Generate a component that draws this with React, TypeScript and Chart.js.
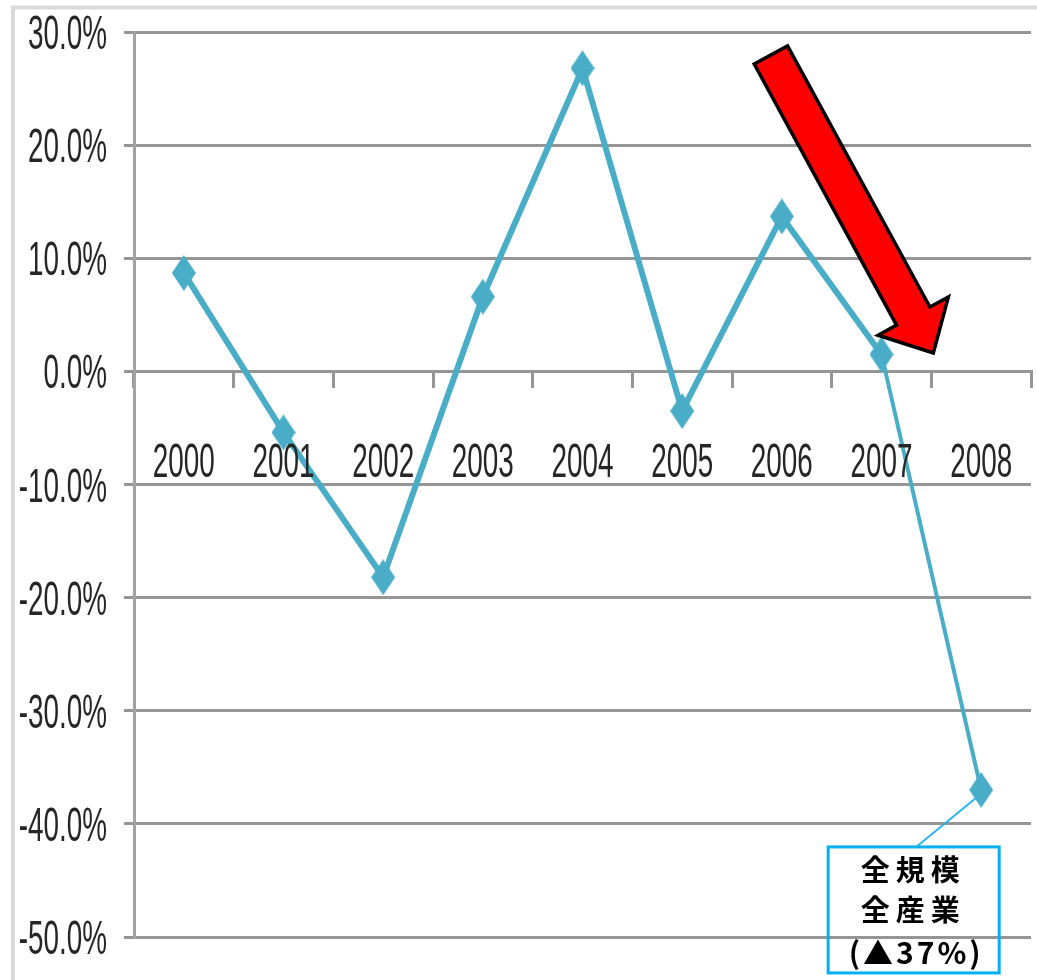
import React, { useEffect, useRef } from "react";
import { Chart, registerables } from "chart.js";

Chart.register(...registerables);

// ---- data ----
const years = ["2000", "2001", "2002", "2003", "2004", "2005", "2006", "2007", "2008"];
const growth = [8.7, -5.4, -18.2, 6.6, 26.8, -3.5, 13.7, 1.5, -37.0];
const yMin = -50;
const yMax = 30;
const yStep = 10;
const noteLines = ["全規模", "全産業", "(▲37%)"];
const arrowFrom = { x: 5.89, y: 27.97 };
const arrowTo = { x: 7.52, y: 1.63 };

const LINE_COLOR = "#4AADC7";
const GRID_COLOR = "#959595";
const TEXT_COLOR = "#262626";
const SX = 0.58;

function makeDiamond(): HTMLCanvasElement {
  const c = document.createElement("canvas");
  c.width = 24;
  c.height = 36;
  const g = c.getContext("2d")!;
  g.fillStyle = LINE_COLOR;
  g.beginPath();
  g.moveTo(12, 0);
  g.lineTo(24, 18);
  g.lineTo(12, 36);
  g.lineTo(0, 18);
  g.closePath();
  g.fill();
  return c;
}

function narrowText(ctx: CanvasRenderingContext2D, text: string, x: number, y: number, align: CanvasTextAlign) {
  ctx.save();
  ctx.translate(x, y);
  ctx.scale(SX, 1);
  ctx.textAlign = align;
  ctx.textBaseline = "alphabetic";
  ctx.fillText(text, 0, 0);
  ctx.restore();
}

const framePlugin = {
  id: "frame",
  beforeDraw(chart: any) {
    const ctx = chart.ctx as CanvasRenderingContext2D;
    ctx.save();
    ctx.fillStyle = "#ffffff";
    ctx.fillRect(0, 0, chart.width, chart.height);
    ctx.strokeStyle = "#d9d9d9";
    ctx.lineWidth = 4;
    ctx.strokeRect(13, 7.5, chart.width + 20, chart.height + 20);
    ctx.restore();
  },
};

const arrowPlugin = {
  id: "redArrow",
  afterDatasetsDraw(chart: any) {
    const ctx = chart.ctx as CanvasRenderingContext2D;
    const xs = chart.scales.x;
    const ys = chart.scales.y;
    const x0 = xs.getPixelForValue(arrowFrom.x);
    const y0 = ys.getPixelForValue(arrowFrom.y);
    const x1 = xs.getPixelForValue(arrowTo.x);
    const y1 = ys.getPixelForValue(arrowTo.y);
    const dx = x1 - x0;
    const dy = y1 - y0;
    const len = Math.hypot(dx, dy);
    const ux = dx / len;
    const uy = dy / len;
    const px = uy;
    const py = -ux;
    const sw = 19;
    const hw = 40;
    const hl = 42;
    const bx = x1 - ux * hl;
    const by = y1 - uy * hl;
    ctx.save();
    ctx.beginPath();
    ctx.moveTo(x0 - px * sw, y0 - py * sw);
    ctx.lineTo(x0 + px * sw, y0 + py * sw);
    ctx.lineTo(bx + px * sw, by + py * sw);
    ctx.lineTo(bx + px * hw, by + py * hw);
    ctx.lineTo(x1, y1);
    ctx.lineTo(bx - px * hw, by - py * hw);
    ctx.lineTo(bx - px * sw, by - py * sw);
    ctx.closePath();
    ctx.fillStyle = "#ff0000";
    ctx.fill();
    ctx.lineWidth = 3.5;
    ctx.lineJoin = "miter";
    ctx.strokeStyle = "#000000";
    ctx.stroke();
    ctx.restore();
  },
};

const labelPlugin = {
  id: "labels",
  afterDraw(chart: any) {
    const ctx = chart.ctx as CanvasRenderingContext2D;
    const xs = chart.scales.x;
    const ys = chart.scales.y;
    ctx.save();
    ctx.fillStyle = TEXT_COLOR;
    ctx.font = "48px 'Liberation Sans', Arial, sans-serif";
    // y tick labels
    ys.ticks.forEach((t: any, i: number) => {
      const yp = ys.getPixelForTick(i);
      narrowText(ctx, `${Number(t.value).toFixed(1)}%`, 107, yp + 17, "right");
    });
    // x tick labels (below the zero line)
    const zero = ys.getPixelForValue(0);
    years.forEach((lab, i) => {
      narrowText(ctx, lab, xs.getPixelForTick(i), zero + 106, "center");
    });

    // callout for last point
    const last = growth.length - 1;
    const pxl = xs.getPixelForValue(last);
    const pyl = ys.getPixelForValue(growth[last]);
    const left = pxl - 153;
    const top = pyl + 57;
    const w = 171;
    const h = 126;
    ctx.strokeStyle = "#2DB2EA";
    ctx.lineWidth = 2;
    ctx.beginPath();
    ctx.moveTo(pxl - 4, pyl + 7);
    ctx.lineTo(pxl - 65, top);
    ctx.stroke();
    ctx.strokeStyle = "#00B0F0";
    ctx.lineWidth = 3;
    ctx.strokeRect(left, top, w, h);

    ctx.fillStyle = "#000000";
    ctx.textAlign = "center";
    ctx.textBaseline = "middle";
    ctx.font = "bold 29px 'Noto Sans CJK JP', sans-serif";
    (ctx as any).letterSpacing = "6px";
    ctx.fillText(noteLines[0], left + 85, top + 23);
    ctx.fillText(noteLines[1], left + 85, top + 63);
    ctx.font = "bold 30px 'Noto Sans CJK JP', sans-serif";
    (ctx as any).letterSpacing = "3px";
    ctx.fillText(noteLines[2], left + 88, top + 106);
    (ctx as any).letterSpacing = "0px";
    ctx.restore();
  },
};

export default function App() {
  const ref = useRef<HTMLCanvasElement | null>(null);
  useEffect(() => {
    if (!ref.current) return;
    const diamond = makeDiamond();
    const chart = new Chart(ref.current, {
      type: "line",
      data: {
        labels: years,
        datasets: [
          {
            data: growth,
            borderColor: LINE_COLOR,
            backgroundColor: LINE_COLOR,
            borderWidth: 6,
            tension: 0,
            pointStyle: diamond as any,
            pointRadius: 12,
            pointHoverRadius: 12,
            segment: {
              borderWidth: (c: any) => (c.p1DataIndex === growth.length - 1 ? 4 : 6),
            },
          },
        ],
      },
      options: {
        animation: false,
        responsive: true,
        maintainAspectRatio: false,
        layout: { autoPadding: false, padding: { top: 32, right: 6, bottom: 43, left: 0 } },
        plugins: {
          legend: { display: false },
          tooltip: { enabled: false },
          title: { display: false },
        },
        scales: {
          x: {
            type: "category",
            position: { y: 0 } as any,
            offset: true,
            afterFit: (s: any) => {
              s.height = 0;
            },
            grid: {
              display: true,
              offset: true,
              drawOnChartArea: false,
              drawTicks: true,
              tickLength: 15,
              color: GRID_COLOR,
              lineWidth: 3,
            },
            border: { display: true, color: GRID_COLOR, width: 3 },
            ticks: { display: false },
          },
          y: {
            min: yMin,
            max: yMax,
            afterFit: (s: any) => {
              s.width = 134;
            },
            ticks: { stepSize: yStep, display: false },
            grid: {
              color: GRID_COLOR,
              lineWidth: 3,
              drawTicks: true,
              tickLength: 10,
            },
            border: { display: true, color: "#a3a3a3", width: 3 },
          },
        },
      },
      plugins: [framePlugin, arrowPlugin, labelPlugin],
    });
    return () => chart.destroy();
  }, []);
  return (
    <div style={{ position: "absolute", left: 0, top: 0, width: 1037, height: 980, background: "#fff", overflow: "hidden" }}>
      <canvas ref={ref} style={{ display: "block" }} />
    </div>
  );
}
